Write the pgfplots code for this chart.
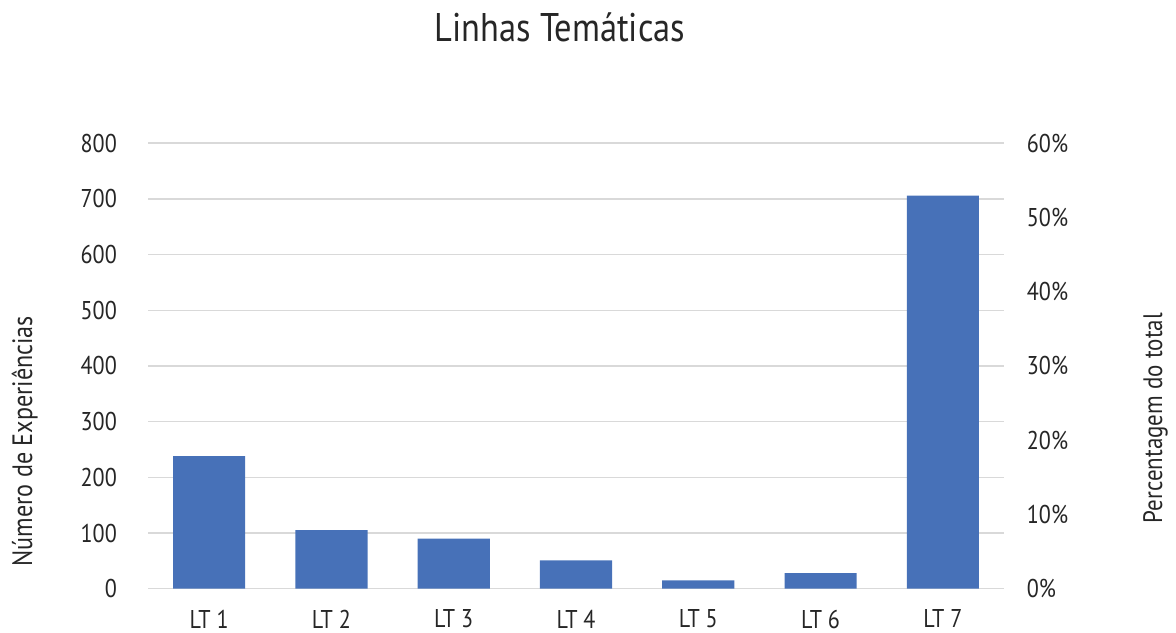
\documentclass[border=0pt]{standalone}
\usepackage{pgfplots}
\pgfplotsset{compat=1.18}
\usepackage{fontspec}
\setmainfont{PT Sans}[FakeStretch=0.86]
\definecolor{barblue}{HTML}{4771B8}
\definecolor{gridgray}{HTML}{D9D9D9}
\definecolor{txt}{HTML}{262626}
\begin{document}
\begin{tikzpicture}[x=1bp,y=1bp]
\path[use as bounding box] (0,0) rectangle (1176,633);
\pgfplotsset{
  common/.style={
    at={(148bp,44.3bp)}, anchor=south west,
    scale only axis, width=856bp, height=445.5bp,
    xmin=-0.5, xmax=6.5,
    axis line style={draw=none},
    major tick length=0pt,
    /pgf/number format/assume math mode=true,
    tick label style={font=\fontsize{25.7bp}{30bp}\selectfont, text=txt},
  }
}
\begin{axis}[common,
  ymin=0, ymax=800,
  ytick={0,100,...,800},
  xtick={0,...,6},
  xticklabels={LT 1,LT 2,LT 3,LT 4,LT 5,LT 6,LT 7},
  ymajorgrids,
  grid style={gridgray, line width=1.4bp},
  yticklabel style={anchor=east, inner sep=0pt, xshift=-31bp},
  xticklabel style={anchor=north, inner sep=0pt, yshift=-21bp},
  ylabel={Número de Experiências},
  ylabel style={at={(axis description cs:-0.1355,0.331)}, anchor=base,
    font=\fontsize{28bp}{32bp}\selectfont, text=txt},
]
\addplot[ybar, bar width=0.59, fill=barblue, draw=none]
  coordinates {(0,238) (1,105) (2,90) (3,51) (4,15) (5,28) (6,706)};
\end{axis}
\begin{axis}[common,
  ymin=0, ymax=60,
  ytick={0,10,...,60},
  xtick=\empty,
  yticklabel pos=right,
  yticklabel={\pgfmathprintnumber{\tick}\%},
  yticklabel style={anchor=west, inner sep=0pt, xshift=22.7bp},
  ylabel={Percentagem do total},
  ylabel style={at={(axis description cs:1.1846,0.383)}, anchor=base,
    font=\fontsize{26.7bp}{31bp}\selectfont, text=txt},
]
\addplot[draw=none] coordinates {(0,0)};
\end{axis}
\node[anchor=base, font=\fontsize{40bp}{46bp}\selectfont, text=txt] at (560,591) {Linhas Temáticas};
\end{tikzpicture}
\end{document}
